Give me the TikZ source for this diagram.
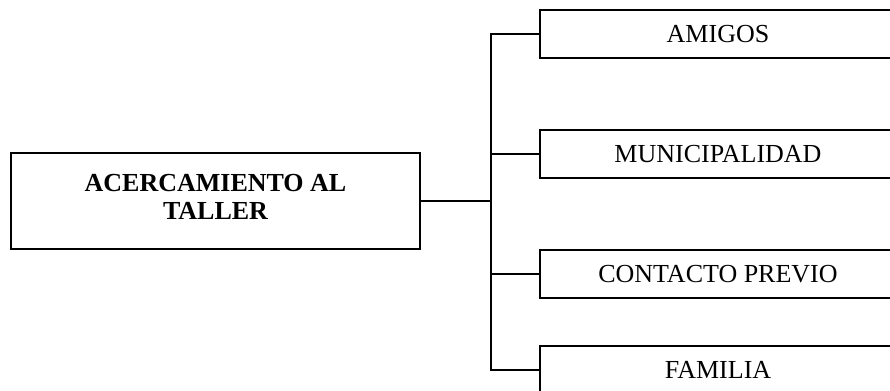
\documentclass[tikz,border=0pt]{standalone}
\usepackage{fontspec}
\setmainfont{Liberation Serif}
\usepackage{tikz}

\begin{document}
\begin{tikzpicture}[x=0.75pt, y=-0.75pt, line width=1.3pt,
  every node/.style={draw, line width=1.3pt, inner sep=0pt, outer sep=0pt,
    font=\fontsize{19.5}{21}\selectfont},
  rama/.style={minimum width=267pt, minimum height=36pt}]
\clip (0,0) rectangle (890,390);

\node[minimum width=306.75pt, minimum height=72pt, align=center,
  font=\fontsize{19.5}{21}\selectfont\bfseries] (taller) at (215.5,201) {ACERCAMIENTO AL\\TALLER\\[-15pt]};

\node[rama] (amigos) at (718,34) {AMIGOS};
\node[rama] (muni) at (718,154) {MUNICIPALIDAD};
\node[rama] (contacto) at (718,274) {CONTACTO PREVIO};
\node[rama] (familia) at (718,370) {FAMILIA};

\coordinate (junta) at (491,201);
\draw (taller.east) -- (junta);
\draw (amigos.west) -- (junta |- amigos.west) -- (junta |- familia.west) -- (familia.west);
\foreach \n in {muni,contacto}
  \draw (junta |- \n.west) -- (\n.west);
\end{tikzpicture}
\end{document}
